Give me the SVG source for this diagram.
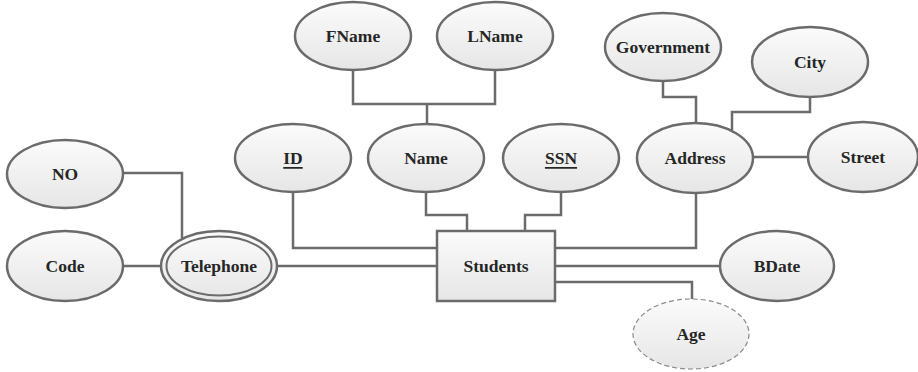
<svg xmlns="http://www.w3.org/2000/svg" width="918" height="372" viewBox="0 0 918 372">
<defs>
<linearGradient id="g" x1="0" y1="0" x2="0" y2="1">
<stop offset="0" stop-color="#fbfbfb"/>
<stop offset="1" stop-color="#e6e6e6"/>
</linearGradient>
</defs>
<style>
.sh{fill:url(#g);stroke:#6b6b6b;stroke-width:2.5}
.dash{fill:url(#g);stroke:#8a8a8a;stroke-width:1.2;stroke-dasharray:5 3}
.ln{fill:none;stroke:#6b6b6b;stroke-width:2.5}
text{font-family:"Liberation Serif","Times New Roman",serif;font-weight:bold;font-size:17.5px;fill:#262626;text-anchor:middle;dominant-baseline:central}
.u{text-decoration:underline}
</style>
<rect width="918" height="372" fill="#ffffff"/>
<g id="connectors">
<polyline class="ln" points="353,70 353,104 495,104 495,70"/>
<line class="ln" x1="427" y1="104" x2="427" y2="124"/>
<polyline class="ln" points="426,192 426,215 467,215 467,231"/>
<polyline class="ln" points="561,192 561,215 525,215 525,231"/>
<polyline class="ln" points="293,192 293,248 437,248"/>
<polyline class="ln" points="696,193 696,248 555,248"/>
<line class="ln" x1="555" y1="266" x2="720" y2="266"/>
<polyline class="ln" points="555,282 692,282 692,299"/>
<line class="ln" x1="277" y1="266" x2="437" y2="266"/>
<line class="ln" x1="124" y1="266" x2="161" y2="266"/>
<polyline class="ln" points="124,173 182,173 182,238"/>
<polyline class="ln" points="663,81 663,97 696,97 696,123"/>
<polyline class="ln" points="810,97 810,112 732,112 732,130"/>
<line class="ln" x1="753" y1="157" x2="808" y2="157"/>
</g>
<g id="FName"><ellipse class="sh" cx="353" cy="36" rx="58" ry="34"/><text x="353" y="36">FName</text></g>
<g id="LName"><ellipse class="sh" cx="495" cy="36" rx="58" ry="34"/><text x="495" y="36">LName</text></g>
<g id="ID"><ellipse class="sh" cx="293" cy="158" rx="58" ry="34"/><text class="u" x="293" y="158">ID</text></g>
<g id="Name"><ellipse class="sh" cx="426" cy="158" rx="58" ry="34"/><text x="426" y="158">Name</text></g>
<g id="SSN"><ellipse class="sh" cx="561" cy="158" rx="58" ry="34"/><text class="u" x="561" y="158">SSN</text></g>
<g id="Government"><ellipse class="sh" cx="663" cy="47" rx="58" ry="34"/><text x="663" y="47">Government</text></g>
<g id="City"><ellipse class="sh" cx="810" cy="62" rx="58" ry="35"/><text x="810" y="62">City</text></g>
<g id="Address"><ellipse class="sh" cx="695" cy="158" rx="58" ry="35"/><text x="695" y="158">Address</text></g>
<g id="Street"><ellipse class="sh" cx="863" cy="157" rx="55" ry="35"/><text x="863" y="157">Street</text></g>
<g id="NO"><ellipse class="sh" cx="65" cy="174" rx="58" ry="34"/><text x="65" y="174">NO</text></g>
<g id="Code"><ellipse class="sh" cx="65" cy="266" rx="58" ry="35"/><text x="65" y="266">Code</text></g>
<g id="Telephone"><ellipse class="sh" cx="219" cy="266" rx="58" ry="35"/><ellipse fill="none" stroke="#6b6b6b" stroke-width="2" cx="219" cy="266" rx="52.5" ry="29.5"/><text x="219" y="266">Telephone</text></g>
<g id="Students"><rect class="sh" x="437" y="231" width="118" height="70"/><text x="496" y="266">Students</text></g>
<g id="BDate"><ellipse class="sh" cx="777" cy="266" rx="57" ry="35"/><text x="777" y="266">BDate</text></g>
<g id="Age"><ellipse class="dash" cx="691" cy="334" rx="58" ry="35"/><text x="691" y="334">Age</text></g>
</svg>
